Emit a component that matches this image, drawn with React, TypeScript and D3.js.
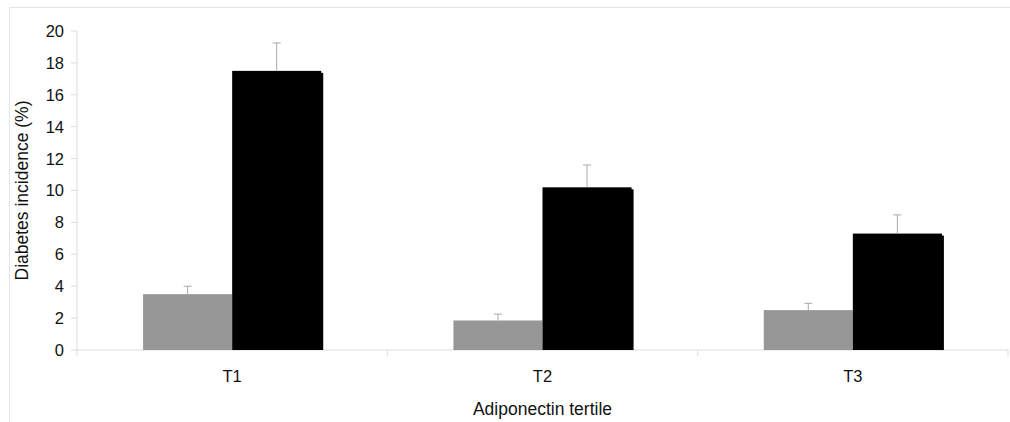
import React from "react";
import * as d3 from "d3";

const categories = ["T1", "T2", "T3"];
const seriesKeys = ["low", "high"];
const lowValues = [3.5, 1.85, 2.5];
const lowErrors = [4.0, 2.25, 2.93];
const highValues = [17.5, 10.2, 7.3];
const highErrors = [19.25, 11.6, 8.47];
const yTicks = [0, 2, 4, 6, 8, 10, 12, 14, 16, 18, 20];

const W = 1010;
const H = 422;
const left = 77;
const right = 1008;
const top = 31;
const bottom = 350;

const font = "'Liberation Sans', Arial, sans-serif";

const App = () => {
  const x = d3
    .scaleBand<string>()
    .domain(categories)
    .range([left, right])
    .paddingInner(0.426)
    .paddingOuter(0.213);
  const xFull = d3.scaleBand<string>().domain(categories).range([left, right]);
  const inner = d3
    .scaleBand<string>()
    .domain(seriesKeys)
    .range([0, x.bandwidth()]);
  const y = d3.scaleLinear().domain([0, 20]).range([bottom, top]);

  const axisColor = "#dcdcdc";
  const errColor = "#a8a8a8";

  return (
    <svg
      width={W}
      height={H}
      style={{ position: "absolute", left: 0, top: 0 }}
      fontFamily={font}
    >
      <rect x={0} y={0} width={W} height={H} fill="#fff" />
      {/* outer frame */}
      <rect
        x={9.5}
        y={7.5}
        width={W + 20}
        height={H + 20}
        fill="none"
        stroke="#e4e4e4"
      />

      {/* y axis */}
      <line x1={left} x2={left} y1={top} y2={bottom + 6} stroke={axisColor} />
      {yTicks.map((t) => (
        <g key={t}>
          <line
            x1={left - 6}
            x2={left}
            y1={y(t)}
            y2={y(t)}
            stroke={axisColor}
          />
          <text
            x={left - 13}
            y={y(t)}
            dy="0.36em"
            textAnchor="end"
            fontSize={16.5}
            fill="#111"
          >
            {t}
          </text>
        </g>
      ))}

      {/* x axis */}
      <line x1={left} x2={right} y1={bottom} y2={bottom} stroke={axisColor} />
      {categories.map((c, i) =>
        i > 0 ? (
          <line
            key={"t" + c}
            x1={xFull(c)}
            x2={xFull(c)}
            y1={bottom}
            y2={bottom + 6}
            stroke={axisColor}
          />
        ) : null
      )}
      <line
        x1={right}
        x2={right}
        y1={bottom}
        y2={bottom + 6}
        stroke={axisColor}
      />

      {/* bars */}
      {categories.map((c, i) => {
        const gx = x(c) as number;
        const lx = gx + (inner("low") as number);
        const hx = gx + (inner("high") as number);
        const bw = inner.bandwidth();
        return (
          <g key={c}>
            <rect
              x={hx + 2}
              y={y(highValues[i]) + 2}
              width={bw}
              height={bottom - y(highValues[i]) - 2}
              fill="#000"
            />
            <rect
              x={lx}
              y={y(lowValues[i])}
              width={bw}
              height={bottom - y(lowValues[i])}
              fill="#969696"
            />
            <rect
              x={hx}
              y={y(highValues[i])}
              width={bw}
              height={bottom - y(highValues[i])}
              fill="#000"
            />
            {/* error bars */}
            <line
              x1={lx + bw / 2}
              x2={lx + bw / 2}
              y1={y(lowValues[i])}
              y2={y(lowErrors[i])}
              stroke={errColor}
            />
            <line
              x1={lx + bw / 2 - 4}
              x2={lx + bw / 2 + 4}
              y1={y(lowErrors[i])}
              y2={y(lowErrors[i])}
              stroke={errColor}
            />
            <line
              x1={hx + bw / 2}
              x2={hx + bw / 2}
              y1={y(highValues[i])}
              y2={y(highErrors[i])}
              stroke={errColor}
            />
            <line
              x1={hx + bw / 2 - 4}
              x2={hx + bw / 2 + 4}
              y1={y(highErrors[i])}
              y2={y(highErrors[i])}
              stroke={errColor}
            />
            <text
              x={gx + x.bandwidth() / 2}
              y={381.5}
              textAnchor="middle"
              fontSize={16.5}
              fill="#111"
            >
              {c}
            </text>
          </g>
        );
      })}

      <text
        x={(left + right) / 2}
        y={415}
        textAnchor="middle"
        fontSize={17.5}
        fill="#111"
      >
        Adiponectin tertile
      </text>
      <text
        transform={`translate(28, ${(top + bottom) / 2}) rotate(-90)`}
        textAnchor="middle"
        fontSize={17.5}
        fill="#111"
      >
        Diabetes incidence (%)
      </text>
    </svg>
  );
};

export default App;
